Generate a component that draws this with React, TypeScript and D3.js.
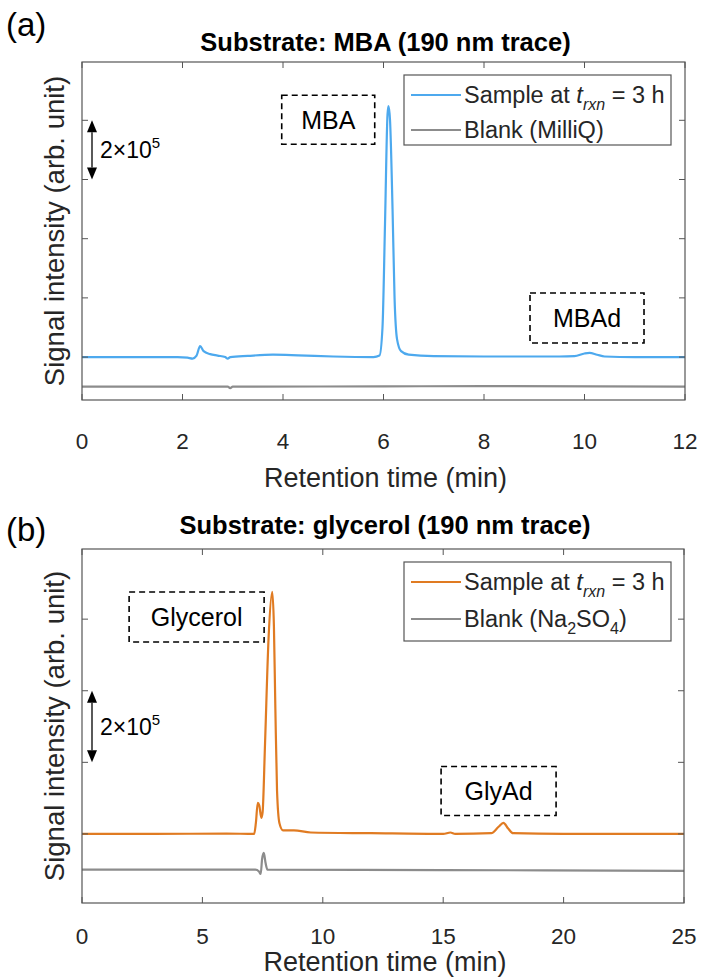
import React from "react";
import * as d3 from "d3";

// ---- Panel (a): MBA substrate, 190 nm trace (signal in units of 1e5) ----
const mbaSampleTime = [0, 1.0, 1.9, 2.1, 2.2, 2.28, 2.35, 2.42, 2.55, 2.7, 2.85, 2.9, 2.95, 3.3, 3.8, 4.3, 5.0, 5.8, 5.92, 5.98, 6.03, 6.08, 6.1, 6.13, 6.18, 6.22, 6.27, 6.35, 6.5, 7.0, 8.0, 9.5, 9.8, 10.0, 10.1, 10.25, 10.4, 11.0, 12.0];
const mbaSampleSignal = [0, 0, 0, -0.02, -0.05, 0.05, 0.37, 0.2, 0.1, 0.05, 0.0, -0.05, 0.0, 0.04, 0.08, 0.06, 0.02, 0.0, 0.05, 1.0, 4.5, 8.2, 8.48, 8.0, 5.0, 2.0, 0.6, 0.2, 0.08, 0.03, 0.02, 0.02, 0.03, 0.12, 0.14, 0.08, 0.02, 0.0, 0.0];
const mbaBlankTime = [0, 2.0, 2.9, 2.95, 3.0, 6.0, 8.0, 12.0];
const mbaBlankSignal = [-1.0, -1.0, -1.0, -1.05, -1.0, -0.99, -0.98, -1.0];
const mbaXTicks = [0, 2, 4, 6, 8, 10, 12];

// ---- Panel (b): glycerol substrate, 190 nm trace ----
const glySampleTime = [0, 3, 6, 7.15, 7.22, 7.3, 7.36, 7.45, 7.5, 7.6, 7.75, 7.9, 7.97, 8.03, 8.1, 8.2, 8.35, 8.8, 9.5, 12, 15, 15.3, 15.5, 17.0, 17.3, 17.5, 17.7, 17.9, 20, 25];
const glySampleSignal = [0, 0, 0.01, 0.0, 0.3, 0.87, 0.8, 0.45, 0.6, 2.5, 5.5, 6.76, 5.8, 3.5, 1.2, 0.3, 0.1, 0.1, 0.04, 0.02, 0.0, 0.04, 0.0, 0.02, 0.2, 0.31, 0.15, 0.02, 0, 0];
const glyBlankTime = [0, 7.2, 7.35, 7.42, 7.48, 7.55, 7.62, 7.7, 15, 25];
const glyBlankSignal = [-1.0, -1.0, -1.05, -1.12, -0.7, -0.53, -0.8, -1.0, -1.01, -1.03];
const glyXTicks = [0, 5, 10, 15, 20, 25];

const FONT = "'Liberation Sans', Arial, Helvetica, sans-serif";
const AXIS_COLOR = "#555";
const TEXT_COLOR = "#262626";
const BLANK_COLOR = "#8c8c8c";

type Label = { text: string; x: number; y: number; w: number; h: number };

type PanelProps = {
  top: number;
  bottom: number;
  left: number;
  right: number;
  xMax: number;
  xTicks: number[];
  yDomain: [number, number];
  sampleT: number[];
  sampleV: number[];
  blankT: number[];
  blankV: number[];
  color: string;
  letter: string;
  letterY: number;
  title: string;
  titleY: number;
  tickY: number;
  xLabelY: number;
  labels: Label[];
  blankLegend: React.ReactNode;
  legendH: number;
  legendRow2: number;
  scaleTop: number; // upper end of the 2e5 scale bar (data units of 1e5)
};

function ArrowBar({ x, y1, y2 }: { x: number; y1: number; y2: number }) {
  const hw = 5;
  const hh = 12;
  return (
    <g>
      <line x1={x} x2={x} y1={y1 + hh} y2={y2 - hh} stroke="#000" strokeWidth={1.3} />
      <path d={`M${x},${y1} L${x - hw},${y1 + hh} L${x + hw},${y1 + hh} Z`} fill="#000" />
      <path d={`M${x},${y2} L${x - hw},${y2 - hh} L${x + hw},${y2 - hh} Z`} fill="#000" />
    </g>
  );
}

function Panel(p: PanelProps) {
  const x = d3.scaleLinear().domain([0, p.xMax]).range([p.left, p.right]);
  const y = d3.scaleLinear().domain(p.yDomain).range([p.bottom, p.top]);
  const yTicks = d3.range(Math.ceil(p.yDomain[0] / 2) * 2, p.yDomain[1] + 0.001, 2);
  const line = d3
    .line<[number, number]>()
    .x((d) => x(d[0]))
    .y((d) => y(d[1]))
    .curve(d3.curveMonotoneX);
  const samplePts = p.sampleT.map((t, i) => [t, p.sampleV[i]] as [number, number]);
  const blankPts = p.blankT.map((t, i) => [t, p.blankV[i]] as [number, number]);
  const tl = 6;
  const legX = 404;
  const legW = 267;
  const legY = p.top + 13;
  const midY = (p.top + p.bottom) / 2;
  const scaleY1 = y(p.scaleTop);
  const scaleY2 = y(p.scaleTop - 2);

  return (
    <g fontFamily={FONT}>
      <text x={6} y={p.letterY} fontSize={33} fill="#000">
        {p.letter}
      </text>
      <text x={(p.left + p.right) / 2 + 2} y={p.titleY} fontSize={25.5} fontWeight="bold" textAnchor="middle" fill="#000">
        {p.title}
      </text>

      <defs>
        <clipPath id={`clip-${p.letter}`}>
          <rect x={p.left} y={p.top} width={p.right - p.left} height={p.bottom - p.top} />
        </clipPath>
      </defs>

      <g clipPath={`url(#clip-${p.letter})`}>
        <path d={line(blankPts) || ""} fill="none" stroke={BLANK_COLOR} strokeWidth={2.2} />
        <path d={line(samplePts) || ""} fill="none" stroke={p.color} strokeWidth={2.2} />
      </g>

      {/* axes box and inward ticks */}
      <rect x={p.left} y={p.top} width={p.right - p.left} height={p.bottom - p.top} fill="none" stroke={AXIS_COLOR} strokeWidth={1.2} />
      {p.xTicks.map((t) => (
        <g key={`xt${t}`}>
          <line x1={x(t)} x2={x(t)} y1={p.bottom} y2={p.bottom - tl} stroke={AXIS_COLOR} />
          <line x1={x(t)} x2={x(t)} y1={p.top} y2={p.top + tl} stroke={AXIS_COLOR} />
          <text x={x(t)} y={p.tickY} fontSize={22.5} textAnchor="middle" fill={TEXT_COLOR}>
            {t}
          </text>
        </g>
      ))}
      {yTicks.map((t) => (
        <g key={`yt${t}`}>
          <line x1={p.left} x2={p.left + tl} y1={y(t)} y2={y(t)} stroke={AXIS_COLOR} />
          <line x1={p.right} x2={p.right - tl} y1={y(t)} y2={y(t)} stroke={AXIS_COLOR} />
        </g>
      ))}

      <text x={(p.left + p.right) / 2 + 2} y={p.xLabelY} fontSize={27} textAnchor="middle" fill={TEXT_COLOR}>
        Retention time (min)
      </text>
      <text
        transform={`translate(${p.left - 18},${midY}) rotate(-90)`}
        fontSize={27.5}
        textAnchor="middle"
        fill={TEXT_COLOR}
      >
        Signal intensity (arb. unit)
      </text>

      {/* 2e5 scale bar */}
      <ArrowBar x={p.left + 10} y1={scaleY1} y2={scaleY2} />
      <text x={p.left + 18} y={(scaleY1 + scaleY2) / 2 + 8} fontSize={23} fill="#000">
        2×10<tspan fontSize={15} dy={-10}>5</tspan>
      </text>

      {/* peak labels */}
      {p.labels.map((l) => (
        <g key={l.text}>
          <rect
            x={x(l.x) - l.w / 2}
            y={y(l.y) - l.h / 2}
            width={l.w}
            height={l.h}
            fill="#fff"
            stroke="#000"
            strokeWidth={1.6}
            strokeDasharray="6 4"
          />
          <text x={x(l.x)} y={y(l.y) + 9} fontSize={25} textAnchor="middle" fill="#000">
            {l.text}
          </text>
        </g>
      ))}

      {/* legend */}
      <rect x={legX} y={legY} width={legW} height={p.legendH} fill="#fff" stroke={AXIS_COLOR} strokeWidth={1.2} />
      <line x1={legX + 7} x2={legX + 57} y1={legY + 20} y2={legY + 20} stroke={p.color} strokeWidth={2} />
      <text x={legX + 60} y={legY + 28} fontSize={23.5} fill={TEXT_COLOR}>
        Sample at <tspan fontStyle="italic">t</tspan>
        <tspan fontStyle="italic" fontSize={16} dy={7}>rxn</tspan>
        <tspan dy={-7}> = 3 h</tspan>
      </text>
      <line x1={legX + 7} x2={legX + 57} y1={legY + p.legendRow2} y2={legY + p.legendRow2} stroke={BLANK_COLOR} strokeWidth={2} />
      <text x={legX + 60} y={legY + p.legendRow2 + 8} fontSize={23.5} fill={TEXT_COLOR}>
        {p.blankLegend}
      </text>
    </g>
  );
}

const mbaLabels: Label[] = [
  { text: "MBA", x: 4.9, y: 8.02, w: 93, h: 49 },
  { text: "MBAd", x: 10.05, y: 1.32, w: 114, h: 50 },
];
const glyLabels: Label[] = [
  { text: "Glycerol", x: 4.76, y: 6.06, w: 135, h: 50 },
  { text: "GlyAd", x: 17.3, y: 1.2, w: 115, h: 49 },
];

export default function App() {
  return (
    <svg
      width={702}
      height={979}
      viewBox="0 0 702 979"
      style={{ position: "absolute", left: 0, top: 0, background: "#fff" }}
    >
      <rect width={702} height={979} fill="#fff" />
      <Panel
        top={62}
        bottom={400}
        left={82}
        right={685}
        xMax={12}
        xTicks={mbaXTicks}
        yDomain={[-1.45, 9.97]}
        sampleT={mbaSampleTime}
        sampleV={mbaSampleSignal}
        blankT={mbaBlankTime}
        blankV={mbaBlankSignal}
        color="#4da9ee"
        letter="(a)"
        letterY={36}
        title="Substrate: MBA (190 nm trace)"
        titleY={51}
        tickY={449}
        xLabelY={487}
        labels={mbaLabels}
        blankLegend={<>Blank (MilliQ)</>}
        legendH={70}
        legendRow2={55}
        scaleTop={8}
      />
      <Panel
        top={549}
        bottom={903}
        left={82}
        right={684}
        xMax={25}
        xTicks={glyXTicks}
        yDomain={[-1.93, 7.96]}
        sampleT={glySampleTime}
        sampleV={glySampleSignal}
        blankT={glyBlankTime}
        blankV={glyBlankSignal}
        color="#e07b22"
        letter="(b)"
        letterY={541}
        title="Substrate: glycerol (190 nm trace)"
        titleY={534}
        tickY={944}
        xLabelY={971}
        labels={glyLabels}
        blankLegend={
          <>
            Blank (Na<tspan fontSize={16} dy={7}>2</tspan>
            <tspan dy={-7}>SO</tspan>
            <tspan fontSize={16} dy={7}>4</tspan>
            <tspan dy={-7}>)</tspan>
          </>
        }
        legendH={79}
        legendRow2={57}
        scaleTop={4}
      />
    </svg>
  );
}
